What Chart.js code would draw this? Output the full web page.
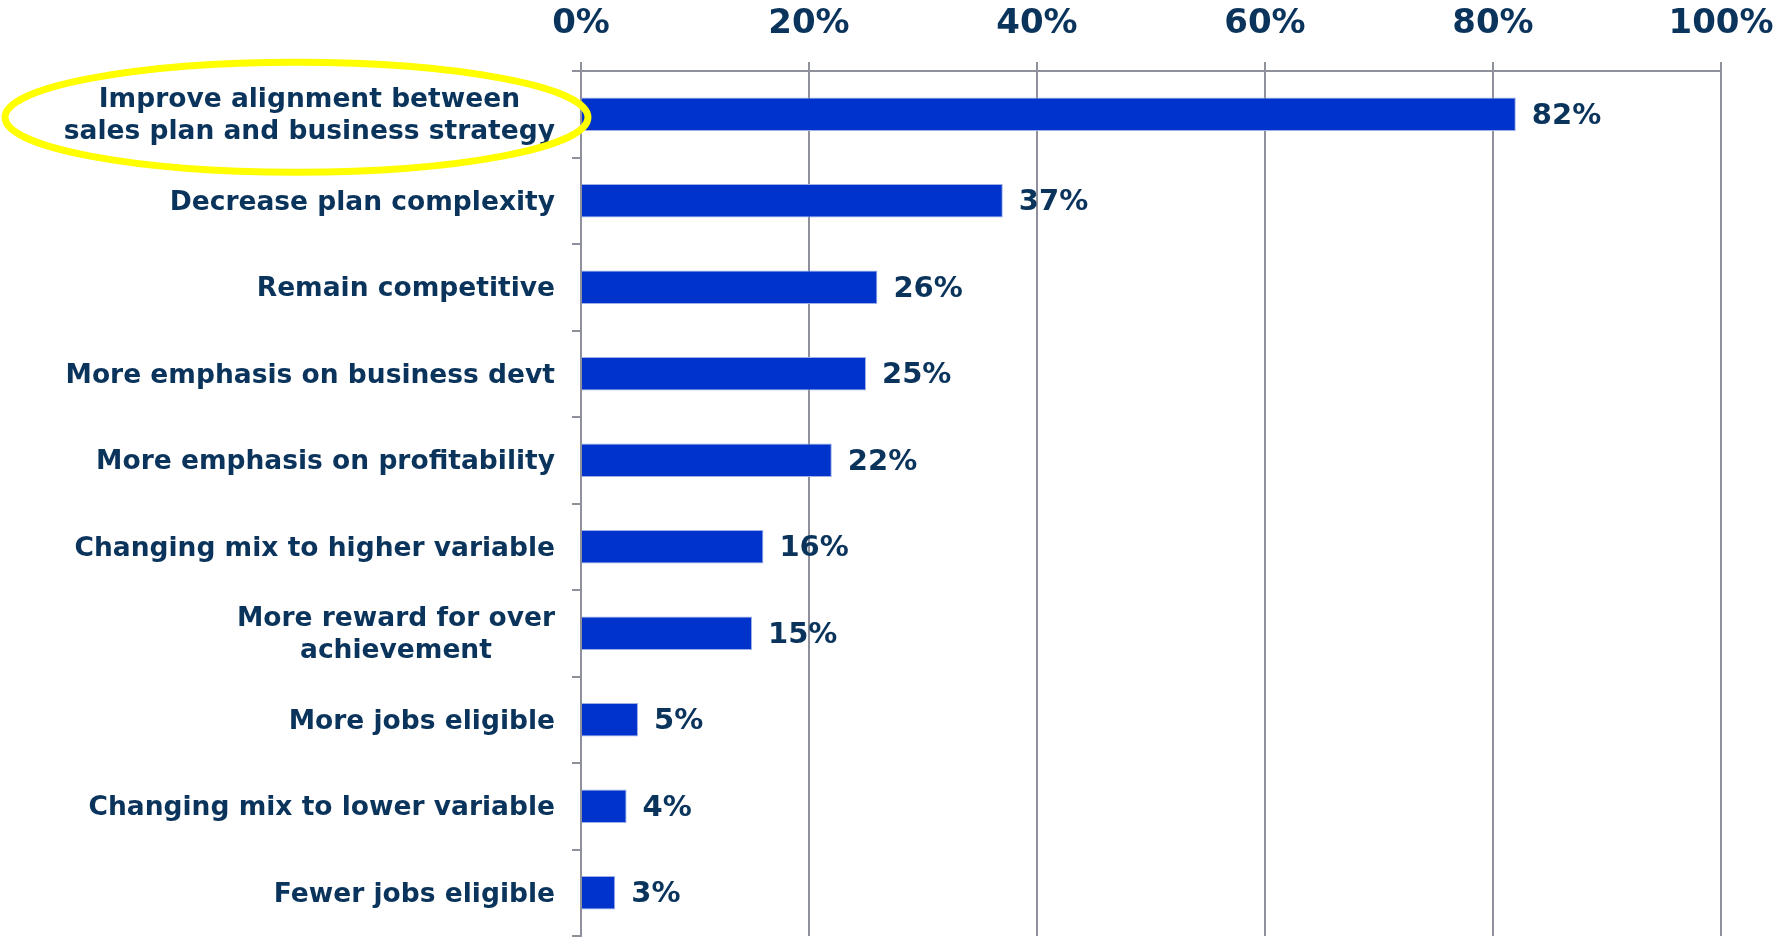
<!DOCTYPE html>
<html>
<head>
<meta charset="utf-8">
<title>Plan changes</title>
<script src="https://cdn.jsdelivr.net/npm/chart.js@4.4.1/dist/chart.umd.min.js"></script>
<style>
  html, body { margin: 0; padding: 0; background: #fff; }
  #wrap { width: 1773px; height: 939px; position: relative; }
</style>
</head>
<body>
<div id="wrap"><canvas id="myChart"></canvas></div>
<script>
 'use strict';

 // categories, top to bottom (multi-line labels as arrays)
 var categories = [
   ['Improve alignment between', 'sales plan and business strategy'],
   'Decrease plan complexity',
   'Remain competitive',
   'More emphasis on business devt',
   'More emphasis on profitability',
   'Changing mix to higher variable',
   ['More reward for over', 'achievement'],
   'More jobs eligible',
   'Changing mix to lower variable',
   'Fewer jobs eligible'
 ];
 var percents = [82, 37, 26, 25, 22, 16, 15, 5, 4, 3];
 var tickValues = [0, 20, 40, 60, 80, 100];

 var navy = '#0b345c';
 var gridGray = '#8e919c';
 var fontFamily = '"DejaVu Sans", Verdana, sans-serif';

 // category labels: block right-aligned at the axis, lines centred inside it
 var categoryLabels = {
   id: 'categoryLabels',
   afterDraw: function(chart) {
     var ctx = chart.ctx;
     var y = chart.scales.y;
     var right = chart.chartArea.left - 26;
     var lineH = 32;
     ctx.save();
     ctx.font = 'bold 26.5px ' + fontFamily;
     ctx.fillStyle = navy;
     ctx.textAlign = 'center';
     ctx.textBaseline = 'middle';
     categories.forEach(function(label, i) {
       var lines = Array.isArray(label) ? label : [label];
       var w = 0;
       lines.forEach(function(l) { w = Math.max(w, ctx.measureText(l).width); });
       var cx = right - w / 2;
       var cy = y.getPixelForValue(i) + 2;
       lines.forEach(function(l, k) {
         ctx.fillText(l, cx, cy + (k - (lines.length - 1) / 2) * lineH);
       });
     });
     ctx.restore();
   }
 };

 // value labels to the right of each bar
 var valueLabels = {
   id: 'valueLabels',
   afterDatasetsDraw: function(chart) {
     var ctx = chart.ctx;
     var meta = chart.getDatasetMeta(0);
     ctx.save();
     ctx.font = 'bold 29px ' + fontFamily;
     ctx.fillStyle = navy;
     ctx.textAlign = 'left';
     ctx.textBaseline = 'middle';
     meta.data.forEach(function(bar, i) {
       ctx.fillText(percents[i] + '%', bar.x + 16, bar.y + 2);
     });
     ctx.restore();
   }
 };

 // yellow ring round the first category
 var highlight = {
   id: 'highlight',
   afterDraw: function(chart) {
     var ctx = chart.ctx;
     var cy = chart.scales.y.getPixelForValue(0) + 3;
     var left = 5;
     var right = chart.chartArea.left + 7;
     ctx.save();
     ctx.strokeStyle = '#ffff00';
     ctx.lineWidth = 7;
     ctx.beginPath();
     ctx.ellipse((left + right) / 2, cy, (right - left) / 2, 55, 0, 0, Math.PI * 2);
     ctx.stroke();
     ctx.restore();
   }
 };

 var ctx = document.getElementById('myChart').getContext('2d');
 var chart = new Chart(ctx, {
   type: 'bar',
   data: {
     labels: categories,
     datasets: [{
       data: percents,
       backgroundColor: '#0033cc',
       borderColor: '#9fb0e6',
       borderWidth: { top: 1, bottom: 1, left: 0, right: 1 },
       borderSkipped: 'left',
       barPercentage: 0.39,
       categoryPercentage: 1
     }]
   },
   options: {
     indexAxis: 'y',
     responsive: true,
     maintainAspectRatio: false,
     animation: false,
     layout: { padding: { top: 0, right: 0, bottom: 3, left: 0 } },
     plugins: {
       legend: { display: false },
       tooltip: { enabled: false }
     },
     scales: {
       x: {
         position: 'top',
         min: 0,
         max: 100,
         afterFit: function(scale) {
           scale.height = 71;
           // "100%" is allowed to run up to the canvas edge
           scale.paddingRight = 52;
           scale.paddingLeft = 0;
         },
         afterBuildTicks: function(scale) {
           scale.ticks = tickValues.map(function(v) { return { value: v }; });
         },
         ticks: {
           padding: 17,
           color: navy,
           font: { family: fontFamily, size: 34, weight: 'bold' },
           callback: function(v) { return v + '%'; }
         },
         grid: { color: gridGray, lineWidth: 2, tickLength: 9 },
         border: { color: gridGray, width: 2 }
       },
       y: {
         afterFit: function(scale) { scale.width = 581; },
         ticks: { display: false },
         grid: { offset: true, drawOnChartArea: false, color: gridGray, lineWidth: 2, tickLength: 9 },
         border: { color: gridGray, width: 2 }
       }
     }
   },
   plugins: [categoryLabels, valueLabels, highlight]
 });
</script>
</body>
</html>
